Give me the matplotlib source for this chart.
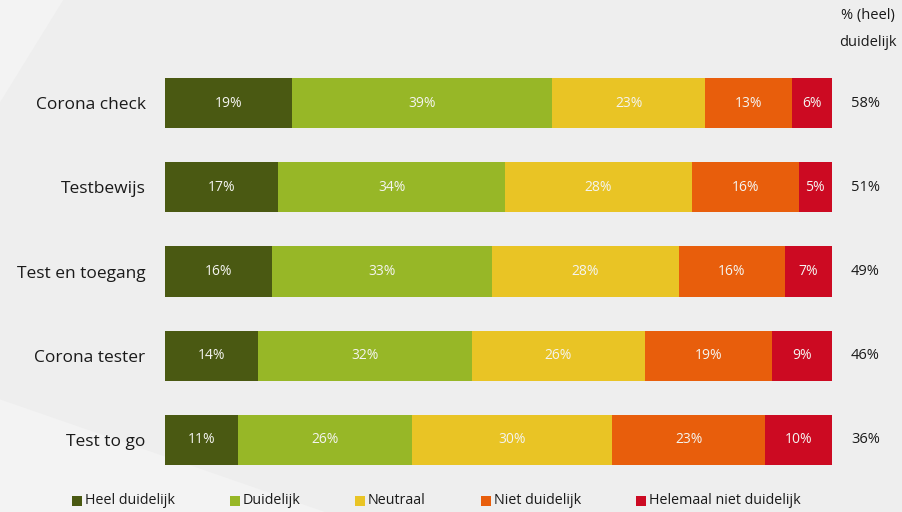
import matplotlib
matplotlib.use("Agg")
import matplotlib.pyplot as plt
import matplotlib.patches as mpatches
import numpy as np

categories = ["Corona check", "Testbewijs", "Test en toegang", "Corona tester", "Test to go"]
series_names = ["Heel duidelijk", "Duidelijk", "Neutraal", "Niet duidelijk", "Helemaal niet duidelijk"]
heel_duidelijk = [19, 17, 16, 14, 11]
duidelijk = [39, 34, 33, 32, 26]
neutraal = [23, 28, 28, 26, 30]
niet_duidelijk = [13, 16, 16, 19, 23]
helemaal_niet = [6, 5, 7, 9, 10]
totaal_duidelijk = [58, 51, 49, 46, 36]

colors = ["#4a5912", "#97b727", "#e9c425", "#e85e0c", "#cc0a22"]
font = "Open Sans"
plt.rcParams['font.family'] = [font, 'DejaVu Sans']

fig = plt.figure(figsize=(9.03, 5.12), dpi=100, facecolor="#eeeeee")
# subtle lighter background shapes
fig.patches.append(mpatches.Polygon([[0, 1], [0.07, 1], [0.0, 0.8]], closed=True,
                                    transform=fig.transFigure, facecolor="#f3f3f3", edgecolor="none", zorder=-10))
fig.patches.append(mpatches.Polygon([[0, 0], [0.36, 0], [0, 0.22]], closed=True,
                                    transform=fig.transFigure, facecolor="#f3f3f3", edgecolor="none", zorder=-10))

ax = fig.add_axes([165/903, 1-482/512, 667/903, 421/512])
ax.set_facecolor("none")
ax.set_zorder(5)

data = [heel_duidelijk, duidelijk, neutraal, niet_duidelijk, helemaal_niet]
y = np.arange(len(categories))
left = np.zeros(len(categories))
for vals, col in zip(data, colors):
    vals = np.array(vals, dtype=float)
    ax.barh(y, vals, left=left, height=0.595, color=col, edgecolor="none")
    for yi, l, v in zip(y, left, vals):
        ax.text(l + v/2, yi, f"{int(v)}%", ha="center", va="center",
                color="#f4f4f0", fontsize=10)
    left += vals

ax.set_xlim(0, 100)
ax.set_ylim(len(categories) - 0.5, -0.5)
ax.set_yticks(y)
ax.set_yticklabels(categories, fontsize=12.5, color="#1a1a1a")
ax.tick_params(axis="y", length=0, pad=14)
ax.set_xticks([])
for s in ax.spines.values():
    s.set_visible(False)

# right column totals
for yi, t in zip(y, totaal_duidelijk):
    ax.text(105, yi, f"{t}%", ha="center", va="center", fontsize=10.5, color="#1a1a1a", clip_on=False)
fig.text(868/903, 1-15/512, "% (heel)", ha="center", va="center", fontsize=10.5, color="#1a1a1a")
fig.text(868/903, 1-43/512, "duidelijk", ha="center", va="center", fontsize=10.5, color="#1a1a1a")

# legend
leg_x = [72, 230, 355, 481, 636]
for xpx, name, col in zip(leg_x, series_names, colors):
    fig.patches.append(mpatches.Rectangle((xpx/903, 1-506/512), 10/903, 10/512,
                                          transform=fig.transFigure, facecolor=col, edgecolor="none"))
    fig.text((xpx+13)/903, 1-501/512, name, ha="left", va="center", fontsize=10.3, color="#1a1a1a")

fig.savefig("out.png", dpi=100, facecolor=fig.get_facecolor())
